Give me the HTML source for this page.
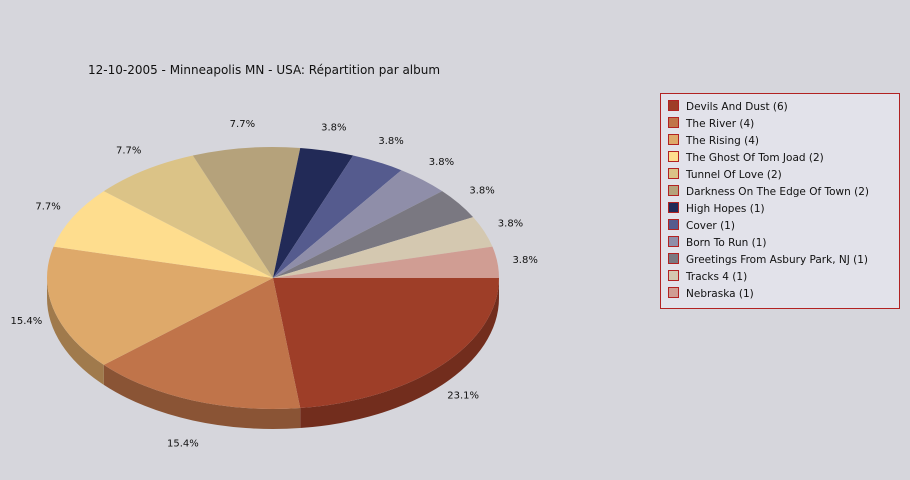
<!DOCTYPE html>
<html><head><meta charset="utf-8">
<style>
body{margin:0;background:#d6d6dc;}
svg{display:block;font-family:"DejaVu Sans","Liberation Sans",sans-serif;}
</style></head>
<body>
<svg id="chart" width="910" height="480" viewBox="0 0 910 480">
<rect x="0" y="0" width="910" height="480" fill="#d6d6dc"/>
<text x="88" y="74" font-size="12" fill="#111">12-10-2005 - Minneapolis MN - USA:  Répartition par album</text>
<g id="sides"></g><g id="tops"></g><g id="labels"></g>
<rect x="660.5" y="93.5" width="239" height="215" fill="#e2e2ea" stroke="#b22222" stroke-width="1"/>
<g id="legend"></g>
</svg>
<script>
const categories=["Devils And Dust","The River","The Rising","The Ghost Of Tom Joad","Tunnel Of Love","Darkness On The Edge Of Town","High Hopes","Cover","Born To Run","Greetings From Asbury Park, NJ","Tracks 4","Nebraska"];
const counts=[6,4,4,2,2,2,1,1,1,1,1,1];
const colors=["#9e3e28","#c0744a","#dea96a","#fedd8e","#dbc387","#b5a27b","#222a57","#555b8e","#8f8ea9","#7a7881","#d4c8b0","#d09d93"];
const NS="http://www.w3.org/2000/svg";
const cx=273,cy=278,rx=226,ry=131,depth=20;
const total=counts.reduce((a,b)=>a+b,0);
function pt(a,dy){return [cx+rx*Math.cos(a),cy+ry*Math.sin(a)+(dy||0)];}
function dark(hex){const n=parseInt(hex.slice(1),16);const f=0.72;
 return "rgb("+Math.round((n>>16)*f)+","+Math.round(((n>>8)&255)*f)+","+Math.round((n&255)*f)+")";}
const sides=document.getElementById('sides'),tops=document.getElementById('tops'),labels=document.getElementById('labels'),legend=document.getElementById('legend');
let acc=0;
counts.forEach((c,i)=>{
 const a0=acc/total*2*Math.PI;acc+=c;const a1=acc/total*2*Math.PI;
 // side
 const s0=Math.max(a0,0),s1=Math.min(a1,Math.PI);
 if(s1>s0){
  const p0=pt(s0),p1=pt(s1),q1=pt(s1,depth),q0=pt(s0,depth);
  const sp=document.createElementNS(NS,'path');
  sp.setAttribute('d',`M${p0[0]},${p0[1]} A${rx},${ry} 0 0 1 ${p1[0]},${p1[1]} L${q1[0]},${q1[1]} A${rx},${ry} 0 0 0 ${q0[0]},${q0[1]} Z`);
  sp.setAttribute('fill',dark(colors[i]));
  
  
  sides.appendChild(sp);
 }
 const p0=pt(a0),p1=pt(a1);
 const large=(a1-a0)>Math.PI?1:0;
 const tp=document.createElementNS(NS,'path');
 tp.setAttribute('d',`M${cx},${cy} L${p0[0]},${p0[1]} A${rx},${ry} 0 ${large} 1 ${p1[0]},${p1[1]} Z`);
 tp.setAttribute('fill',colors[i]);
 
 
 tops.appendChild(tp);
 const am=(a0+a1)/2;
 let lx=cx+(rx+28)*Math.cos(am),ly=cy+(ry+25)*Math.sin(am)+4;
 if(Math.sin(am)>0)ly+=depth*Math.sin(am);
 const t=document.createElementNS(NS,'text');
 t.setAttribute('x',lx);t.setAttribute('y',ly);t.setAttribute('text-anchor','middle');
 t.setAttribute('font-size','10');t.setAttribute('fill','#111');
 t.textContent=(c/total*100).toFixed(1)+'%';
 
 
 labels.appendChild(t);
 const y=101+i*17;
 const sq=document.createElementNS(NS,'rect');
 sq.setAttribute('x',668.5);sq.setAttribute('y',y-0.5);sq.setAttribute('width',10);sq.setAttribute('height',10);
 sq.setAttribute('fill',colors[i]);sq.setAttribute('stroke','#b22222');
 
 
 legend.appendChild(sq);
 const lt=document.createElementNS(NS,'text');
 lt.setAttribute('x',686);lt.setAttribute('y',y+9);lt.setAttribute('font-size','10.5');lt.setAttribute('fill','#111');
 lt.textContent=categories[i]+' ('+c+')';
 
 
 legend.appendChild(lt);
});
</script>
</body></html>
